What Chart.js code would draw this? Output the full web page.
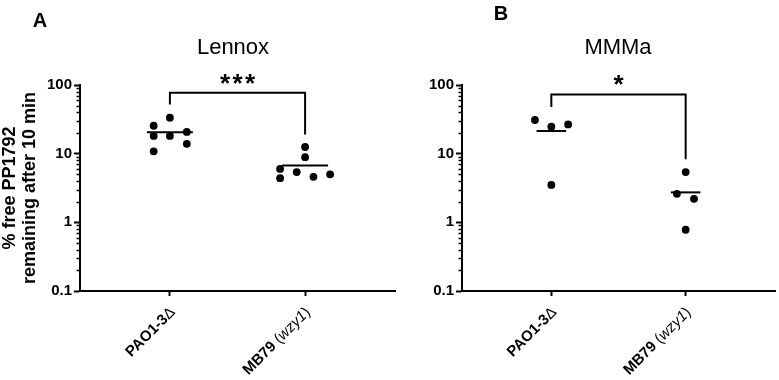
<!DOCTYPE html>
<html>
<head>
<meta charset="utf-8">
<script src="https://cdn.jsdelivr.net/npm/chart.js@4.4.0/dist/chart.umd.min.js"></script>
<style>
  html, body { margin: 0; padding: 0; background: #fff; }
  #wrap { position: relative; width: 779px; height: 380px; }
  #wrap canvas { position: absolute; left: 0; top: 0; }
</style>
</head>
<body>
<div id="wrap">
  <canvas id="chartA" width="779" height="380"></canvas>
  <canvas id="chartB" width="779" height="380"></canvas>
</div>
<script>
// ── Data ──────────────────────────────────────────────────────────────────
const groups = ['PAO1-3Δ', 'MB79 (wzy1)'];
const yMajorTicks = [0.1, 1, 10, 100];
const yMinorSteps = [2, 3, 4, 5, 6, 7, 8, 9];

// A — Lennox
const lennoxPAO1 = [25.5, 33.4, 18.1, 18.1, 20.7, 13.9, 10.8];
const lennoxPAO1Jitter = [-0.12, 0, -0.12, 0, 0.125, 0.125, -0.12];
const lennoxMB79 = [12.5, 8.9, 6.0, 5.4, 4.4, 4.6, 5.0];
const lennoxMB79Jitter = [0, 0, -0.185, -0.062, -0.185, 0.062, 0.185];
const lennoxMeans = [20.5, 6.7];
const lennoxBracket = [52, 77, 19];   // left foot, top, right foot
const lennoxSig = '***';

// B — MMMa
const mmmaPAO1 = [30.9, 24.7, 26.7, 3.5];
const mmmaPAO1Jitter = [-0.122, 0, 0.125, 0];
const mmmaMB79 = [5.4, 2.6, 2.2, 0.78];
const mmmaMB79Jitter = [0, -0.065, 0.062, 0];
const mmmaMeans = [21.4, 2.73];
const mmmaBracket = [48, 73, 8.3];
const mmmaSig = '*';

const FONT = '"Liberation Sans", Arial, sans-serif';
Chart.defaults.font.family = FONT;
Chart.defaults.font.size = 15;
Chart.defaults.font.weight = 'bold';
Chart.defaults.color = '#000';

// x tick labels with mixed styling (bold / plain delta / italic gene name)
const groupLabelParts = [
    [['PAO1-3', 'bold'], ['Δ', 'normal']],
    [['MB79 ', 'bold'], ['(', 'normal'], ['wzy1', 'italic'], [')', 'normal']]
];

const yTickList = [];
yMajorTicks.forEach((d, i) => {
    yTickList.push({ value: d, major: true });
    if (i < yMajorTicks.length - 1) yMinorSteps.forEach(s => yTickList.push({ value: +(d * s).toPrecision(3), major: false }));
});

// ── Extras: minor ticks, titles, stars, x labels ──────────────────────────
const extrasPlugin = {
    id: 'extras',
    afterDraw(chart, args, o) {
        const { ctx, chartArea } = chart;
        const xs = chart.scales.x, ys = chart.scales.y;
        ctx.save();

        // minor ticks (shorter than major)
        ctx.strokeStyle = '#000';
        ctx.lineWidth = 1.5;
        ys.ticks.forEach(t => {
            if (t.major) return;
            const py = Math.round(ys.getPixelForValue(t.value)) + 0.5;
            ctx.beginPath();
            ctx.moveTo(chartArea.left - 3.5, py);
            ctx.lineTo(chartArea.left, py);
            ctx.stroke();
        });

        // panel letter + title
        ctx.fillStyle = '#000';
        ctx.textAlign = 'center';
        ctx.textBaseline = 'middle';
        ctx.font = 'bold 20px ' + FONT;
        ctx.fillText(o.letter, o.letterX, o.letterY);
        ctx.font = 'normal 22px ' + FONT;
        ctx.fillText(o.title, o.titleX, 48);

        // significance stars over the bracket
        ctx.font = 'bold 26px ' + FONT;
        ctx.textBaseline = 'alphabetic';
        const sx = xs.getPixelForValue(0.5);
        const sy = ys.getPixelForValue(o.bracketTop) - 1;
        const n = o.sig.length;
        for (let i = 0; i < n; i++) ctx.fillText('*', sx + (i - (n - 1) / 2) * 12.5, sy);

        // rotated x labels
        groupLabelParts.forEach((parts, i) => {
            const ax = xs.getPixelForValue(i) + 3;
            const ay = chartArea.bottom + 19;
            ctx.save();
            ctx.translate(ax, ay);
            ctx.rotate(-Math.PI / 4);
            ctx.textAlign = 'left';
            ctx.textBaseline = 'middle';
            let total = 0;
            parts.forEach(([t, s]) => { ctx.font = s + ' 15px ' + FONT; total += ctx.measureText(t).width; });
            let x = -total;
            parts.forEach(([t, s]) => {
                ctx.font = s + ' 15px ' + FONT;
                ctx.fillText(t, x, 0);
                x += ctx.measureText(t).width;
            });
            ctx.restore();
        });
        ctx.restore();
    }
};

function points(values, jitter, group) {
    return values.map((v, i) => ({ x: group + jitter[i], y: v }));
}

function meanLine(mean, group, half) {
    return {
        type: 'line', data: [{ x: group - half, y: mean }, { x: group + half, y: mean }],
        borderColor: '#000', borderWidth: 2, pointRadius: 0, showLine: true, fill: false
    };
}

function makePanel(canvasId, p) {
    new Chart(document.getElementById(canvasId), {
        type: 'scatter',
        data: {
            datasets: [
                { data: points(p.pao1, p.pao1Jitter, 0), backgroundColor: '#000', borderColor: '#000', pointRadius: 3.9, borderWidth: 0 },
                { data: points(p.mb79, p.mb79Jitter, 1), backgroundColor: '#000', borderColor: '#000', pointRadius: 3.9, borderWidth: 0 },
                meanLine(p.means[0], 0, p.meanHalf),
                meanLine(p.means[1], 1, p.meanHalf),
                {
                    type: 'line',
                    data: [{ x: 0, y: p.bracket[0] }, { x: 0, y: p.bracket[1] }, { x: 1, y: p.bracket[1] }, { x: 1, y: p.bracket[2] }],
                    borderColor: '#000', borderWidth: 2, pointRadius: 0, showLine: true, fill: false,
                    borderJoinStyle: 'miter', tension: 0
                }
            ]
        },
        options: {
            responsive: false,
            animation: false,
            events: [],
            layout: { padding: { left: p.padLeft, right: p.padRight, top: 85, bottom: 0 } },
            plugins: {
                legend: { display: false },
                tooltip: { enabled: false },
                extras: { letter: p.letter, letterX: p.letterX, letterY: p.letterY, title: p.title, titleX: p.titleX, bracketTop: p.bracket[1], sig: p.sig }
            },
            scales: {
                x: {
                    type: 'linear',
                    min: -0.665, max: 1.665,
                    afterBuildTicks: s => { s.ticks = [{ value: 0 }, { value: 1 }]; },
                    afterFit: s => { s.height = 89; },
                    ticks: { display: false },
                    grid: { display: true, drawOnChartArea: false, drawTicks: true, tickLength: 5, tickWidth: 2, tickColor: '#000' },
                    border: { display: true, color: '#000', width: 2 }
                },
                y: {
                    type: 'logarithmic',
                    min: 0.1, max: 100,
                    afterBuildTicks: s => { s.ticks = yTickList.map(t => ({ ...t })); },
                    afterFit: s => { s.width = p.yWidth; },
                    ticks: {
                        autoSkip: false,
                        padding: 2,
                        font: { family: FONT, size: 15, weight: 'bold' },
                        callback: (v, i, ticks) => ticks[i].major ? String(v) : ''
                    },
                    grid: {
                        display: true, drawOnChartArea: false, drawTicks: true, tickLength: 6, tickWidth: 2,
                        tickColor: c => (c.tick && c.tick.major) ? '#000' : 'rgba(0,0,0,0)'
                    },
                    border: { display: true, color: '#000', width: 2 },
                    title: {
                        display: p.yTitle,
                        text: ['% free PP1792', 'remaining after 10 min'],
                        font: { family: FONT, size: 18, weight: 'bold', lineHeight: 1.1 },
                        padding: { top: 0, bottom: 0 }
                    }
                }
            }
        },
        plugins: [extrasPlugin]
    });
}

makePanel('chartA', {
    pao1: lennoxPAO1, pao1Jitter: lennoxPAO1Jitter, mb79: lennoxMB79, mb79Jitter: lennoxMB79Jitter,
    means: lennoxMeans, meanHalf: 0.17, bracket: lennoxBracket, sig: lennoxSig,
    title: 'Lennox', titleX: 233, letter: 'A', letterX: 40, letterY: 21,
    padLeft: 0, padRight: 384, yWidth: 80, yTitle: true
});

makePanel('chartB', {
    pao1: mmmaPAO1, pao1Jitter: mmmaPAO1Jitter, mb79: mmmaMB79, mb79Jitter: mmmaMB79Jitter,
    means: mmmaMeans, meanHalf: 0.11, bracket: mmmaBracket, sig: mmmaSig,
    title: 'MMMa', titleX: 618, letter: 'B', letterX: 501, letterY: 14,
    padLeft: 400, padRight: 4, yWidth: 62, yTitle: false
});
</script>
</body>
</html>
